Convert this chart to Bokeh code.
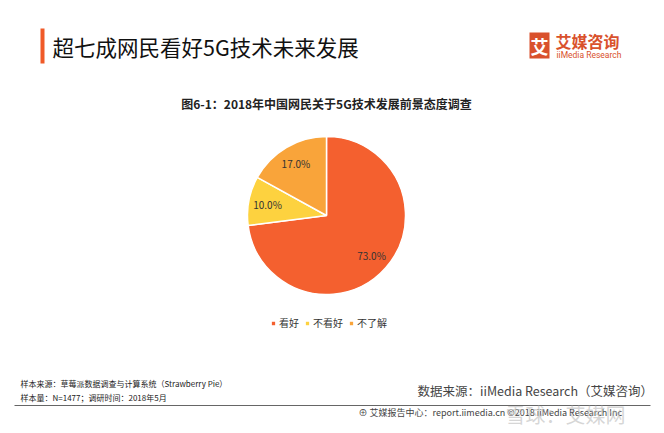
import math
from bokeh.plotting import figure
from bokeh.models import Range1d, ColumnDataSource, Legend, LegendItem
from bokeh.core.properties import value
from bokeh.embed import file_html
from bokeh.resources import INLINE

# ---- data ----
categories = ["看好", "不看好", "不了解"]
shares = [73.0, 10.0, 17.0]
colors = ["#F4602F", "#FDD23F", "#F9A43A"]
title_text = "超七成网民看好5G技术未来发展"
chart_title = "图6-1：2018年中国网民关于5G技术发展前景态度调查"
note1 = "样本来源：草莓派数据调查与计算系统（Strawberry  Pie）"
note2 = "样本量：N=1477；调研时间：2018年5月"
source_text = "数据来源：iiMedia Research（艾媒咨询）"
report_text = "艾媒报告中心：report.iimedia.cn ©2018 iiMedia Research Inc"

W, H = 664, 433
FONT = "Noto Sans CJK SC"

def Y(y):
    return H - y

p = figure(width=W, height=H, x_range=Range1d(0, W), y_range=Range1d(0, H),
           output_backend="svg", toolbar_location=None, min_border=0,
           background_fill_color="white", border_fill_color="white")
p.axis.visible = False
p.grid.visible = False
p.outline_line_color = None

# ---- pie ----
cx, cy, r = 326, Y(215), 79
total = sum(shares)
starts, ends, lx, ly, labels = [], [], [], [], []
cum = 0.0
for s in shares:
    a0 = math.pi / 2 - 2 * math.pi * (cum + s) / total
    a1 = math.pi / 2 - 2 * math.pi * cum / total
    starts.append(a0)
    ends.append(a1)
    mid = (a0 + a1) / 2
    lx.append(cx + 0.76 * r * math.cos(mid))
    ly.append(cy + 0.76 * r * math.sin(mid))
    labels.append(f"{s:.1f}%")
    cum += s

src = ColumnDataSource(dict(start=starts, end=ends, color=colors, cat=categories,
                            lx=lx, ly=ly, lab=labels))
wr = p.wedge(x=cx, y=cy, radius=r, start_angle="start", end_angle="end",
             fill_color="color", line_color="white", line_width=1.5, source=src)
p.text(x="lx", y="ly", text="lab", source=src, text_align="center",
       text_baseline="middle", text_font=value(FONT), text_font_size="10px",
       text_color="#333333")

legend = Legend(items=[LegendItem(label=c, renderers=[wr], index=i) for i, c in enumerate(categories)],
                orientation="horizontal", location=(270, 103),
                glyph_width=6, glyph_height=6, label_standoff=3, spacing=5,
                padding=0, margin=0, border_line_color=None, background_fill_alpha=0,
                label_text_font=FONT, label_text_font_size="10px", label_text_color="#333333",
                label_height=12)
p.add_layout(legend, "center")

# ---- header ----
p.quad(left=[40], right=[44], bottom=[Y(63)], top=[Y(28)], fill_color="#F05A28", line_color=None)
p.text(x=[52], y=[Y(46)], text=[title_text], text_font=value(FONT), text_font_size="21.5px",
       text_baseline="middle", text_color="#111111")
# logo
p.quad(left=[529], right=[549], bottom=[Y(58)], top=[Y(32)], fill_color="#D9512C", line_color=None)
p.text(x=[539], y=[Y(45)], text=["艾"], text_font=value(FONT), text_font_size="18px",
       text_font_style="bold", text_align="center", text_baseline="middle", text_color="white")
p.text(x=[555], y=[Y(40)], text=["艾媒咨询"], text_font=value(FONT), text_font_size="16px",
       text_font_style="bold", text_baseline="middle", text_color="#D9512C")
p.text(x=[556], y=[Y(54)], text=["iiMedia Research"], text_font=value("Roboto"), text_font_size="8.5px",
       text_baseline="middle", text_color="#D9512C")

# chart title
p.text(x=[326], y=[Y(103)], text=[chart_title], text_font=value(FONT), text_font_size="12px",
       text_font_style="bold", text_align="center", text_baseline="middle", text_color="#222222")

# ---- footer ----
p.text(x=[20], y=[Y(383)], text=[note1], text_font=value(FONT), text_font_size="8px",
       text_baseline="middle", text_color="#222222")
p.text(x=[20], y=[Y(397)], text=[note2], text_font=value(FONT), text_font_size="8px",
       text_baseline="middle", text_color="#222222")
p.text(x=[417], y=[Y(390)], text=[source_text], text_font=value(FONT), text_font_size="12.5px",
       text_baseline="middle", text_color="#444444")
p.line(x=[14, 650], y=[Y(405), Y(405)], line_color="#666666", line_width=1)
p.text(x=[358], y=[Y(412)], text=["⊕ " + report_text], text_font=value(FONT), text_font_size="9px",
       text_baseline="middle", text_color="#444444")
p.text(x=[505], y=[Y(414)], text=["雪球：艾媒网"], text_font=value(FONT), text_font_size="20px",
       text_baseline="middle", text_color="#BBBBBB", text_alpha=0.6)

open("out.html", "w").write(file_html(p, INLINE))
